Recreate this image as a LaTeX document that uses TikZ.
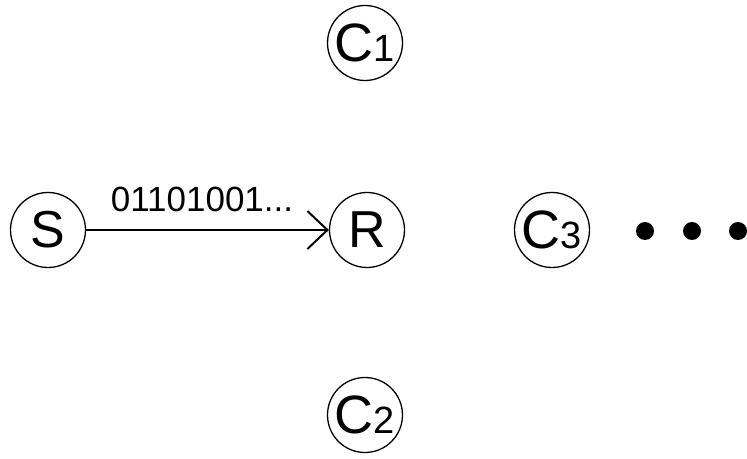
\documentclass[tikz,border=0pt]{standalone}
\usepackage{fontspec}
\setmainfont{Liberation Sans}
\usetikzlibrary{arrows.meta}
\tikzset{
  agent/.style={circle, draw=black, line width=1.3pt, minimum size=75pt, inner sep=0pt,
    font=\fontsize{52}{52}\selectfont},
  cagent/.style={agent, font=\fontsize{54}{54}\selectfont},
  dotmark/.style={circle, fill=black, minimum size=18pt, inner sep=0pt},
  msg/.style={line width=2pt, -{Straight Barb[length=20pt,width=38pt,line width=2pt]}},
  lbl/.style={font=\fontsize{35}{35}\selectfont, inner sep=0pt, anchor=base}
}
\newcommand{\sub}[1]{{\fontsize{38}{38}\selectfont #1}}
\begin{document}
\begin{tikzpicture}[x=1pt,y=1pt]
\useasboundingbox (0,0) rectangle (747,458);
\node[agent] (S) at (48,228) {S};
\node[agent] (R) at (367,228) {R};
\node[cagent] (C1) at (365,415) {C\sub{1}};
\node[cagent] (C2) at (365,43) {C\sub{2}};
\node[cagent] (C3) at (552,228) {C\sub{3}};
\node[dotmark] (d1) at (645,227) {};
\node[dotmark] (d2) at (692,227) {};
\node[dotmark] (d3) at (738,227) {};
\draw[msg] (S) -- (R);
\node[lbl] (bits) at (202,246) {01101001...};
\end{tikzpicture}
\end{document}
